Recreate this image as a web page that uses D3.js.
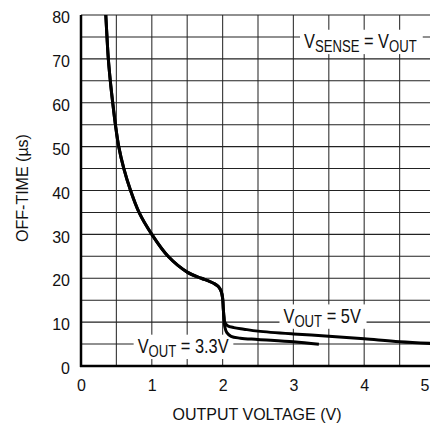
<!DOCTYPE html>
<html>
<head>
<meta charset="utf-8">
<script src="https://cdn.jsdelivr.net/npm/d3@7"></script>
<style>
  html, body { margin: 0; padding: 0; background: #fff; }
  svg { display: block; font-family: "Liberation Sans", Arial, sans-serif; }
</style>
</head>
<body>
<div id="chart"></div>
<script>
// Off-time vs output voltage
const xTicks = [0, 1, 2, 3, 4, 5];
const yTicks = [0, 10, 20, 30, 40, 50, 60, 70, 80];

// common part of both curves, down to the knee at ~2V
const sharedCurve = [
    [0.35, 80], [0.367, 75], [0.386, 70], [0.414, 65], [0.448, 60],
    [0.486, 55], [0.533, 50], [0.605, 45], [0.70, 40], [0.82, 35],
    [1.0, 30], [1.23, 25], [1.5, 21.4], [1.7, 20.0], [1.8, 19.4],
    [1.88, 18.8], [1.94, 18.1], [1.98, 17.0], [2.0, 15.5], [2.01, 13.0],
    [2.02, 11.0]
];
const tail5V = [
    [2.03, 10.0], [2.07, 9.2], [2.16, 8.75], [2.3, 8.4], [2.5, 7.95],
    [3.0, 7.3], [3.5, 6.8], [4.0, 6.2], [4.5, 5.55], [5.0, 5.1]
];
const tail33V = [
    [2.03, 9.0], [2.06, 7.6], [2.12, 6.75], [2.25, 6.35], [2.5, 6.05],
    [3.0, 5.5], [3.36, 4.95]
];

const W = 430, H = 425;
const margin = { top: 15, left: 81 };
const width = 354, height = 351;

const svg = d3.select('#chart').append('svg')
    .attr('width', W)
    .attr('height', H)
    .style('overflow', 'hidden');

const g = svg.append('g').attr('transform', `translate(${margin.left},${margin.top})`);

const x = d3.scaleLinear().domain([0, 5]).range([0, width]);
const y = d3.scaleLinear().domain([0, 80]).range([height, 0]);

// grid
g.append('g').selectAll('line')
    .data(d3.range(1, 10).map(i => i * 0.5))
    .enter().append('line')
    .attr('x1', d => x(d)).attr('x2', d => x(d))
    .attr('y1', 0).attr('y2', height)
    .attr('stroke', '#444').attr('stroke-width', 1.2);

g.append('g').selectAll('line')
    .data(d3.range(1, 17).map(i => i * 5))
    .enter().append('line')
    .attr('x1', 0).attr('x2', width)
    .attr('y1', d => y(d)).attr('y2', d => y(d))
    .attr('stroke', '#222').attr('stroke-width', 1.1);

// axes
const yAxis = g.append('g')
    .call(d3.axisLeft(y).tickValues(yTicks).tickFormat(d3.format('d')).tickSize(0).tickPadding(11));
yAxis.select('.domain').remove();
yAxis.selectAll('text').attr('dy', '0.48em');

const xAxis = g.append('g')
    .attr('transform', `translate(0,${height})`)
    .call(d3.axisBottom(x).tickValues(xTicks).tickFormat(d3.format('d')).tickSize(0).tickPadding(14));
xAxis.select('.domain').remove();
// last label sits at the clipped right edge, keep it readable
xAxis.selectAll('.tick text').filter(d => d === 5)
    .attr('text-anchor', 'end')
    .attr('x', W - margin.left - 1 - x(5));

svg.selectAll('.tick text')
    .attr('fill', '#111')
    .attr('font-size', null)
    .attr('font-family', null)
    .style('font-size', '16px');

g.append('line')
    .attr('x1', 0).attr('x2', 0).attr('y1', 0).attr('y2', height + 1)
    .attr('stroke', '#000').attr('stroke-width', 2.5);
g.append('line')
    .attr('x1', -1).attr('x2', width).attr('y1', height).attr('y2', height)
    .attr('stroke', '#000').attr('stroke-width', 2.6);

// annotations with white boxes, horizontally squeezed like the condensed datasheet font
const squeeze = 0.82;
function label(px, py, main, sub, rest, pad) {
    const lg = g.append('g')
        .attr('transform', `translate(${x(px)},${y(py)}) scale(${squeeze},1)`);
    const t = lg.append('text')
        .attr('fill', '#111')
        .style('font-size', '20px');
    t.append('tspan').text(main[0]);
    t.append('tspan').attr('dy', 3.5).style('font-size', '16px').text(main[1]);
    t.append('tspan').attr('dy', -3.5).text(rest);
    if (sub) t.append('tspan').attr('dy', 3.5).style('font-size', '16px').text(sub);
    const bb = t.node().getBBox();
    lg.insert('rect', 'text')
        .attr('x', bb.x - pad[0] / squeeze).attr('y', bb.y + pad[1])
        .attr('width', bb.width + (pad[0] + pad[2]) / squeeze)
        .attr('height', bb.height - pad[1] + pad[3])
        .attr('fill', '#fff');
}

label(3.15, 72.4, ['V', 'SENSE'], 'OUT', ' = V', [4, 0, 6, -1]);
label(2.86, 9.8, ['V', 'OUT'], null, ' = 5V', [4, 0, 5, -1]);
label(0.80, 2.9, ['V', 'OUT'], null, ' = 3.3V', [4, 0, 4, -1]);

// curves
const line = d3.line()
    .x(d => x(d[0]))
    .y(d => y(d[1]))
    .curve(d3.curveCatmullRom.alpha(0.5));

[sharedCurve.concat(tail5V), sharedCurve.concat(tail33V)].forEach(s => {
    g.append('path')
        .datum(s)
        .attr('d', line)
        .attr('fill', 'none')
        .attr('stroke', '#000')
        .attr('stroke-width', 3)
        .attr('stroke-linejoin', 'round');
});

// axis titles
svg.append('text')
    .attr('x', 257)
    .attr('y', 420)
    .attr('text-anchor', 'middle')
    .attr('fill', '#111')
    .style('font-size', '16px')
    .text('OUTPUT VOLTAGE (V)');

svg.append('text')
    .attr('transform', 'translate(28,188) rotate(-90)')
    .attr('text-anchor', 'middle')
    .attr('fill', '#111')
    .style('font-size', '16px')
    .text('OFF-TIME (µs)');
</script>
</body>
</html>
